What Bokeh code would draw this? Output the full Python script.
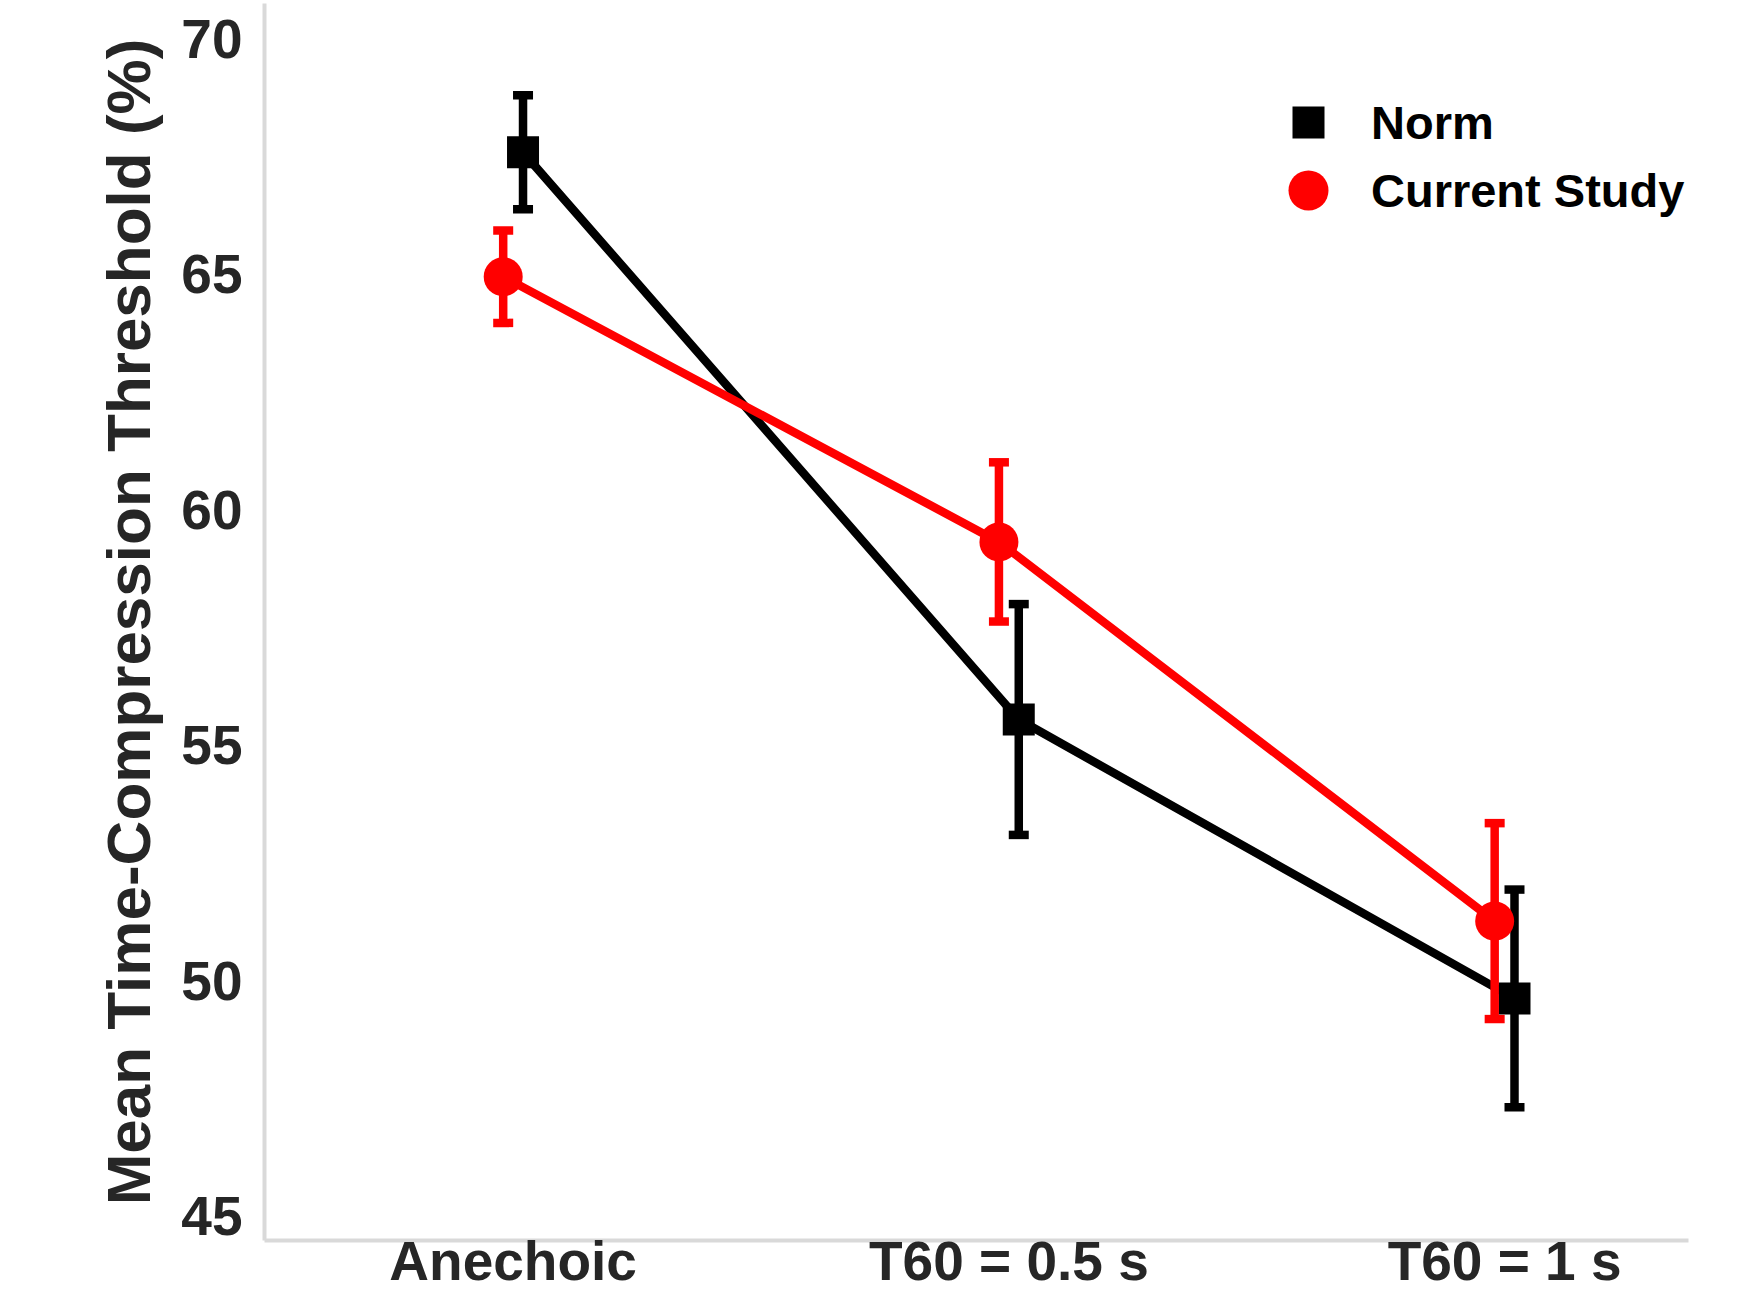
from bokeh.plotting import figure
from bokeh.models import FixedTicker, Legend, LegendItem, Range1d, ColumnDataSource
from bokeh.embed import file_html
from bokeh.resources import INLINE

# ---- data ----
categories = ["Anechoic", "T60 = 0.5 s", "T60 = 1 s"]
norm_mean = [67.59, 55.55, 49.63]
norm_err = [1.21, 2.45, 2.31]
current_mean = [64.95, 59.32, 51.27]
current_err = [0.98, 1.69, 2.08]
y_ticks = [45, 50, 55, 60, 65, 70]

DODGE = 0.02
FONT = "Liberation Sans"
TXT = "#262626"


def make_source(means, errs, offset):
    xs = [i + offset for i in range(len(categories))]
    return ColumnDataSource(dict(
        x=xs,
        mean=means,
        lo=[m - e for m, e in zip(means, errs)],
        hi=[m + e for m, e in zip(means, errs)],
    ))


norm_src = make_source(norm_mean, norm_err, DODGE)
cur_src = make_source(current_mean, current_err, -DODGE)

p = figure(width=1744, height=1294, output_backend="svg", toolbar_location=None,
           x_range=Range1d(-0.5015, 2.371), y_range=Range1d(44.49, 70.75),
           min_border_left=264, min_border_right=56, min_border_top=3,
           min_border_bottom=54)
p.outline_line_color = None
p.xgrid.visible = False
p.ygrid.visible = False
p.background_fill_color = "white"
p.border_fill_color = "white"

LW = 8.5


def draw(src, color, marker, size):
    p.line("x", "mean", source=src, line_width=LW, line_color=color, line_join="round")
    p.segment(x0="x", y0="lo", x1="x", y1="hi", source=src, line_width=LW, line_color=color)
    p.scatter("x", "lo", source=src, marker="dash", size=20, line_width=LW, line_color=color)
    p.scatter("x", "hi", source=src, marker="dash", size=20, line_width=LW, line_color=color)
    return p.scatter("x", "mean", source=src, marker=marker, size=size,
                     fill_color=color, line_color=color, line_width=0)


sq = draw(norm_src, "#000000", "square", 32)
ci = draw(cur_src, "#ff0000", "circle", 39)

# ---- axes ----
for ax in (p.xaxis[0], p.yaxis[0]):
    ax.axis_line_color = "#d9d9d9"
    ax.axis_line_width = 4
    ax.major_tick_line_color = None
    ax.minor_tick_line_color = None
    ax.major_tick_out = 0
    ax.major_tick_in = 0
    ax.major_label_text_font = FONT
    ax.major_label_text_font_style = "bold"
    ax.major_label_text_color = TXT
    ax.major_label_text_font_size = "55px"

p.xaxis.ticker = FixedTicker(ticks=list(range(len(categories))))
p.xaxis.major_label_overrides = {i: c for i, c in enumerate(categories)}
p.xaxis.major_label_standoff = -11

p.yaxis.ticker = FixedTicker(ticks=y_ticks)
p.yaxis.major_label_standoff = 22
p.yaxis.axis_label = "Mean Time-Compression Threshold (%)"
p.yaxis.axis_label_text_font = FONT
p.yaxis.axis_label_text_font_style = "bold"
p.yaxis.axis_label_text_font_size = "62px"
p.yaxis.axis_label_text_color = TXT
p.yaxis.axis_label_standoff = 15

# ---- legend (two blocks so each marker keeps its own size) ----
def add_legend(label, rend, glyph, loc, standoff):
    lg = Legend(items=[LegendItem(label=label, renderers=[rend])],
                location=loc, orientation="vertical",
                glyph_width=glyph, glyph_height=glyph,
                label_standoff=standoff, padding=0, margin=0, spacing=0,
                border_line_color=None, background_fill_alpha=0,
                label_text_font=FONT, label_text_font_style="bold",
                label_text_font_size="47px", label_text_color="#000000")
    p.add_layout(lg)


add_legend("Norm", sq, 80, (1004, 1078), 23)
add_legend("Current Study", ci, 100, (994, 1000), 13)

open("out.html", "w").write(file_html(p, INLINE))
